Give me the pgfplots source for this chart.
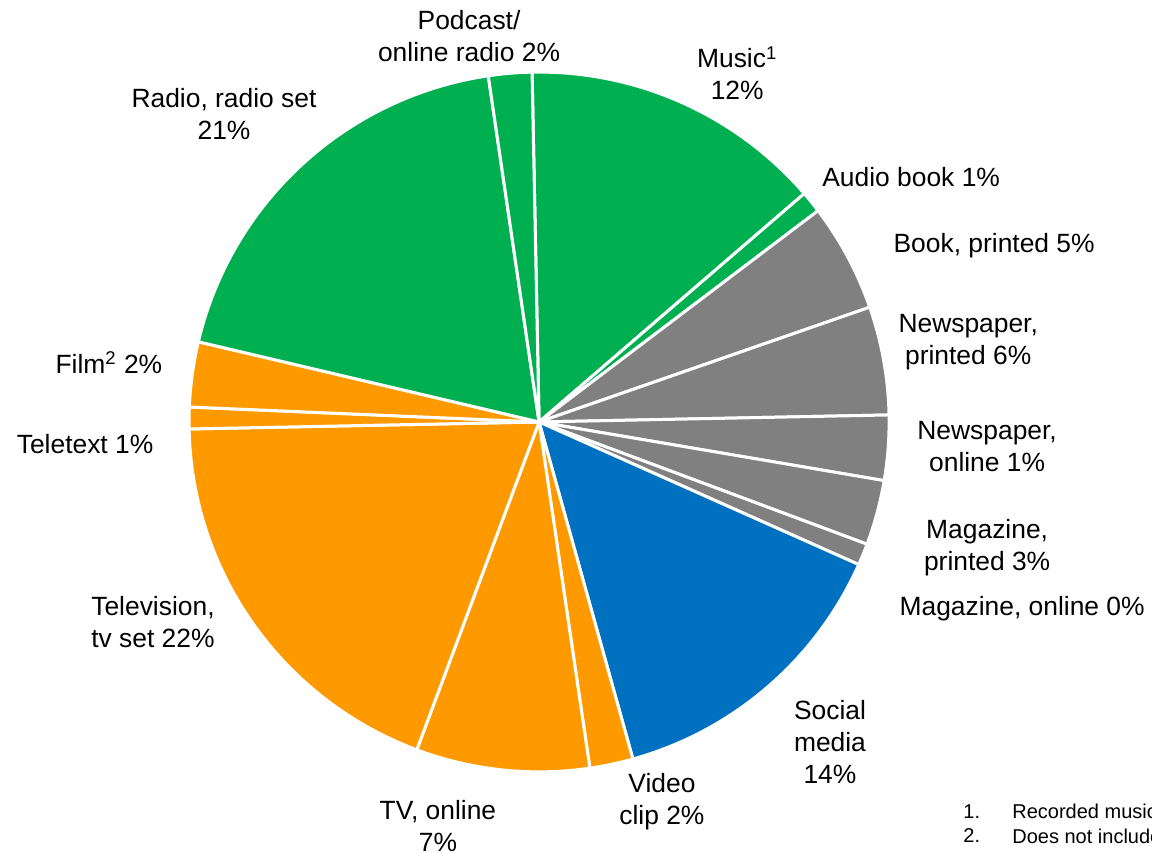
\documentclass[border=0pt]{standalone}
\usepackage{fontspec}
\setmainfont{Liberation Sans}
\usepackage{pgfplots}
\usepackage{pgfplotstable}
\pgfplotsset{compat=1.18}

\definecolor{pgreen}{HTML}{00B050}
\definecolor{porange}{HTML}{FF9900}
\definecolor{pgrey}{HTML}{808080}
\definecolor{pblue}{HTML}{0070C0}

% slice sizes in percent, clockwise from the top
\pgfplotstableread{
share colour
14 pgreen
1  pgreen
5  pgrey
5  pgrey
3  pgrey
3  pgrey
1  pgrey
14 pblue
2  porange
8  porange
19 porange
1  porange
3  porange
19 pgreen
2  pgreen
}\shares
\pgfplotstablegetrowsof{\shares}
\pgfmathtruncatemacro{\lastrow}{\pgfplotsretval-1}

\tikzset{
  lbl/.style={font=\fontsize{13.2}{16}\selectfont, align=center, inner sep=0pt},
  fn/.style={font=\fontsize{10}{12}\selectfont, anchor=west, inner sep=0pt}
}

\begin{document}
\begin{tikzpicture}
\begin{axis}[
    hide axis,
    scale only axis,
    width=576pt, height=426pt,
    xmin=-1.54, xmax=1.751,
    ymin=-1.229, ymax=1.206,
    clip=false
]
\gdef\angStart{91.15}
\pgfplotsforeachungrouped \i in {0,...,\lastrow}{%
  \pgfplotstablegetelem{\i}{share}\of\shares \let\val\pgfplotsretval
  \pgfplotstablegetelem{\i}{colour}\of\shares \let\col\pgfplotsretval
  \pgfmathsetmacro{\angEnd}{\angStart-3.6*\val}%
  \edef\doslice{\noexpand\addplot[fill=\col, draw=white, line width=1.5pt,
      line join=round, domain=\angEnd:\angStart, samples=60,
      variable=\noexpand\t]
    ({cos(\noexpand\t)},{sin(\noexpand\t)}) -- (axis cs:0,0) -- cycle;}%
  \doslice
  \global\let\angStart\angEnd
}

\node[lbl] at (axis cs:-0.2,1.103) {Podcast/\\online radio 2\%};
\node[lbl] at (axis cs:0.566,0.997) {Music\textsuperscript{1}\\12\%};
\node[lbl] at (axis cs:1.063,0.7) {Audio book 1\%};
\node[lbl] at (axis cs:1.3,0.503) {Book, printed 5\%};
\node[lbl] at (axis cs:1.226,0.229) {Newspaper,\\printed 6\%};
\node[lbl] at (axis cs:1.28,-0.071) {Newspaper,\\online 1\%};
\node[lbl] at (axis cs:1.28,-0.36) {Magazine,\\printed 3\%};
\node[lbl] at (axis cs:1.38,-0.534) {Magazine, online 0\%};
\node[lbl] at (axis cs:0.831,-0.914) {Social\\media\\14\%};
\node[lbl] at (axis cs:0.351,-1.086) {Video\\clip 2\%};
\node[lbl] at (axis cs:-0.289,-1.154) {TV, online\\7\%};
\node[lbl] at (axis cs:-1.103,-0.571) {Television,\\tv set 22\%};
\node[lbl] at (axis cs:-1.297,-0.063) {Teletext 1\%};
\node[lbl] at (axis cs:-1.229,0.169) {Film\textsuperscript{2} 2\%};
\node[lbl] at (axis cs:-0.9,0.879) {Radio, radio set\\21\%};

\node[fn] at (axis cs:1.211,-1.114) {1.};
\node[fn] at (axis cs:1.351,-1.114) {Recorded music};
\node[fn] at (axis cs:1.211,-1.183) {2.};
\node[fn] at (axis cs:1.351,-1.183) {Does not include};
\end{axis}
\pgfresetboundingbox
\path (current axis.south west) rectangle (current axis.north east);
\end{tikzpicture}
\end{document}
